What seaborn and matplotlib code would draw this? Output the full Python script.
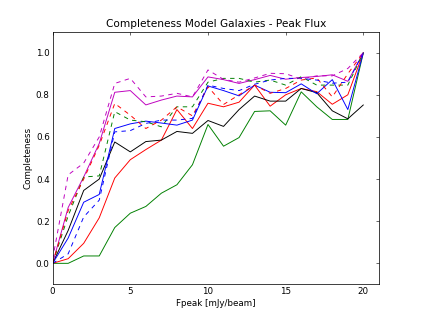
import numpy as np
import pandas as pd
import matplotlib
matplotlib.use("Agg")
import matplotlib.pyplot as plt
import seaborn as sns

fpeak = list(range(21))

# solid lines
green_solid = [0.0, 0.0, 0.035, 0.035, 0.17, 0.238, 0.27, 0.333, 0.373, 0.468, 0.659,
               0.556, 0.597, 0.721, 0.724, 0.656, 0.814, 0.743, 0.683, 0.683, 1.0]
red_solid = [0.0, 0.022, 0.095, 0.216, 0.405, 0.492, 0.54, 0.585, 0.73, 0.64, 0.76,
             0.743, 0.765, 0.846, 0.746, 0.8, 0.83, 0.815, 0.755, 0.8, 1.0]
black_solid = [0.0, 0.156, 0.346, 0.4, 0.576, 0.529, 0.578, 0.585, 0.626, 0.617, 0.678,
               0.65, 0.73, 0.794, 0.77, 0.77, 0.83, 0.81, 0.724, 0.686, 0.752]
blue_solid = [0.0, 0.12, 0.29, 0.327, 0.64, 0.662, 0.675, 0.666, 0.656, 0.68, 0.842,
              0.82, 0.795, 0.846, 0.812, 0.81, 0.852, 0.805, 0.872, 0.73, 1.0]
magenta_solid = [0.0, 0.265, 0.41, 0.569, 0.812, 0.82, 0.752, 0.775, 0.794, 0.79, 0.885,
                 0.872, 0.854, 0.872, 0.892, 0.874, 0.882, 0.887, 0.895, 0.864, 1.0]

# dashed lines
green_dashed = [0.0, 0.225, 0.41, 0.415, 0.72, 0.68, 0.672, 0.648, 0.743, 0.743, 0.86,
                0.878, 0.878, 0.86, 0.87, 0.846, 0.886, 0.846, 0.846, 0.846, 1.0]
red_dashed = [0.0, 0.25, 0.4, 0.56, 0.759, 0.703, 0.64, 0.68, 0.743, 0.7, 0.838,
              0.754, 0.8, 0.846, 0.807, 0.83, 0.87, 0.88, 0.79, 0.9, 1.0]
blue_dashed = [0.0, 0.045, 0.22, 0.3, 0.624, 0.63, 0.664, 0.68, 0.68, 0.688, 0.846,
               0.83, 0.82, 0.85, 0.87, 0.878, 0.878, 0.87, 0.855, 0.86, 1.0]
magenta_dashed = [0.02, 0.42, 0.476, 0.6, 0.854, 0.878, 0.79, 0.794, 0.807, 0.79, 0.918,
                  0.873, 0.86, 0.88, 0.902, 0.9, 0.875, 0.89, 0.89, 0.925, 1.0]

series = [
    (green_solid, "#008000", "-"),
    (red_solid, "#ff0000", "-"),
    (black_solid, "#000000", "-"),
    (blue_solid, "#0000ff", "-"),
    (magenta_solid, "#bf00bf", "-"),
    (green_dashed, "#008000", "--"),
    (red_dashed, "#ff0000", "--"),
    (blue_dashed, "#0000ff", "--"),
    (magenta_dashed, "#bf00bf", "--"),
]

sns.set_style("white")
plt.rcParams["font.family"] = ["DejaVu Sans"]
plt.rcParams["text.color"] = "black"
plt.rcParams["axes.labelcolor"] = "black"
plt.rcParams["xtick.direction"] = "in"
plt.rcParams["ytick.direction"] = "in"
plt.rcParams["xtick.top"] = True
plt.rcParams["ytick.right"] = True
plt.rcParams["lines.scale_dashes"] = False
plt.rcParams["lines.dashed_pattern"] = [6, 6]

dpi = 52.625
fig = plt.figure(figsize=(421 / dpi, 316 / dpi), dpi=dpi)
ax = fig.add_axes([0.125, 0.1, 0.775, 0.8])

for vals, col, ls in series:
    sns.lineplot(x=fpeak, y=vals, color=col, linestyle=ls, linewidth=1.3, ax=ax)

ax.set_xlim(0, 21)
ax.set_ylim(-0.1, 1.1)
ax.set_xticks([0, 5, 10, 15, 20])
ax.set_yticks([0.0, 0.2, 0.4, 0.6, 0.8, 1.0])
ax.set_yticklabels(["0.0", "0.2", "0.4", "0.6", "0.8", "1.0"])
ax.tick_params(labelsize=12, length=4, width=0.8, colors="black", pad=4)
for sp in ax.spines.values():
    sp.set_color("black")
    sp.set_linewidth(1.0)
ax.set_title("Completeness Model Galaxies - Peak Flux", fontsize=14.4, color="black")
ax.set_xlabel("Fpeak [mJy/beam]", fontsize=12)
ax.set_ylabel("Completeness", fontsize=12)

fig.savefig("out.png", dpi=dpi, facecolor="white")
